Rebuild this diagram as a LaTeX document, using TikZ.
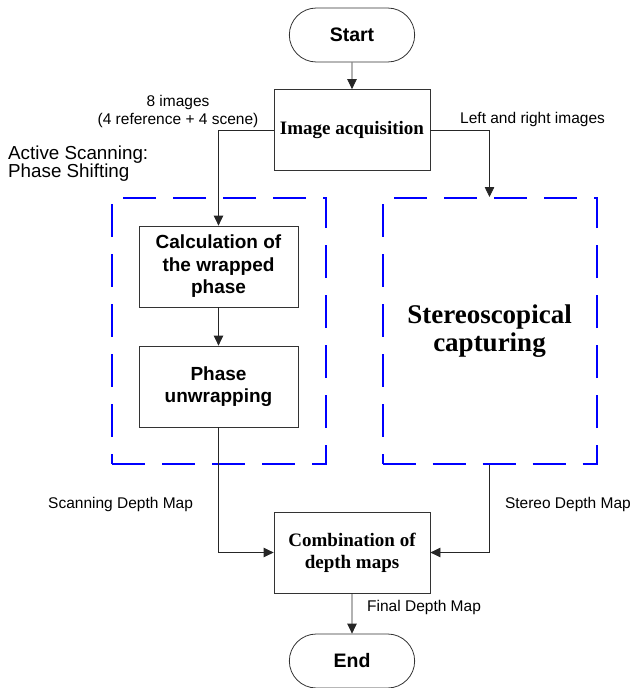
\documentclass[tikz,border=0pt]{standalone}
\usepackage{fontspec}
\setmainfont{Liberation Serif}
\setsansfont{Liberation Sans}
\usetikzlibrary{arrows.meta,shapes.misc}

\tikzset{
	startstop/.style={rounded rectangle, draw=black!80, line width=0.8pt, minimum width=132pt, minimum height=54pt, font=\sffamily\bfseries\fontsize{19.5}{22}\selectfont},
	procbox/.style={rectangle, draw=black!80, line width=0.8pt, minimum width=159pt, minimum height=81pt, align=center, font=\sffamily\bfseries\fontsize{19}{22.5}\selectfont},
	serifbox/.style={procbox, minimum width=156pt, minimum height=81pt, font=\bfseries\fontsize{19}{22}\selectfont},
	dashbox/.style={draw=blue, line width=2pt, dash pattern=on 33pt off 17pt, minimum width=214pt, minimum height=266pt},
	flowlabel/.style={font=\sffamily\fontsize{15.5}{18.5}\selectfont, inner sep=0pt, align=center},
	flowarrow/.style={draw=black!85, line width=0.8pt, -{Triangle[length=10pt,width=9.5pt]}},
}

\begin{document}
\begin{tikzpicture}[x=1pt,y=-1pt]
		\useasboundingbox (0,0) rectangle (632,688);
		
		% the two dashed blocks go first
		\node[dashbox] (scan) at (219,331) {};
		\node[dashbox, align=center, font=\bfseries\fontsize{27}{28}\selectfont] (stereo) at (489.5,331) {Stereoscopical\\capturing};
		
		\node[startstop] (start) at (352,35) {Start};
		\node[serifbox] (acq) at (352,130) {Image acquisition};
		\node[procbox] (wrap) at (218.5,266.5) {Calculation of\\the wrapped\\phase};
		\node[procbox] (unwrap) at (218.5,386.5) {Phase\\unwrapping};
		\node[serifbox] (comb) at (352,552.5) {Combination of\\depth maps};
		\node[startstop] (end) at (352,661) {End};
		
		\draw[flowarrow] (start) -- (acq);
		\draw[flowarrow] (acq.west) -| (wrap.north);
		\draw[flowarrow] (acq.east) -| (stereo.north);
		\draw[flowarrow] (wrap) -- (unwrap);
		\draw[flowarrow] (unwrap.south) |- (comb.west);
		\draw[flowarrow] (stereo.south) |- (comb.east);
		\draw[flowarrow] (comb) -- (end);
		
		\node[flowlabel] (imglabel) at (178,111.5) {8 images\\(4 reference + 4 scene)};
		\node[flowlabel, anchor=west] (lrlabel) at (460,119) {Left and right images};
		\node[flowlabel, anchor=west, align=left, font=\sffamily\fontsize{18.8}{18}\selectfont] (activelabel) at (8,163.5) {Active Scanning:\\Phase Shifting};
		\node[flowlabel, anchor=west] (scanlabel) at (48,504) {Scanning Depth Map};
		\node[flowlabel, anchor=east] (stereolabel) at (631,504) {Stereo Depth Map};
		\node[flowlabel, anchor=west] (finallabel) at (367,607) {Final Depth Map};
	\end{tikzpicture}
\end{document}
